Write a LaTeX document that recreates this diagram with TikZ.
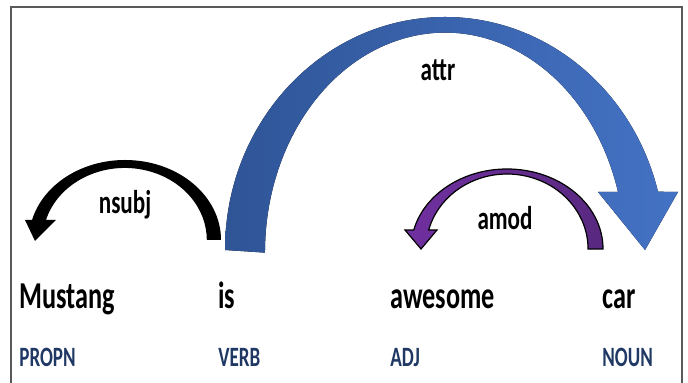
\documentclass[tikz,border=0pt]{standalone}
\usepackage{fontspec}
\setmainfont{Carlito}
\usepackage{graphicx}
\usepackage{xcolor}
\usepackage{tikz}
\usetikzlibrary{calc,positioning}
\definecolor{attrDark}{HTML}{2F5597}
\definecolor{attrLight}{HTML}{4472C4}
\definecolor{amodLight}{HTML}{7030A0}
\definecolor{amodDark}{HTML}{58297F}
\definecolor{posBlue}{HTML}{1F3864}
\definecolor{frameGray}{HTML}{595959}
\newcommand{\narrow}[2][0.7]{\scalebox{#1}[1]{#2}}

\begin{document}
\begin{tikzpicture}[x=0.5pt, y=0.5pt,
    word/.style={anchor=base west, inner sep=0pt, font=\fontsize{19}{22}\selectfont\bfseries},
    tag/.style={anchor=base west, inner sep=0pt, text=posBlue, font=\fontsize{14}{16}\selectfont\bfseries},
    rel/.style={inner sep=0pt, font=\fontsize{16.5}{19}\selectfont\bfseries}]
        \useasboundingbox (0,0) rectangle (688,383);
        \draw[frameGray, line width=0.75pt] (11,0) -- (11,376) -- (682,376) -- (682,0);
        % attr
        \fill[left color=attrDark, right color=attrLight]
            (225,133) arc[start angle=180, end angle=14.5, x radius=220, y radius=233]
            -- (678,191) -- (645,133) -- (598,191) -- (618,191)
            arc[start angle=16, end angle=180, x radius=180, y radius=220] -- cycle;
        % nsubj
        \fill[black]
            (221,143) arc[start angle=0, end angle=165.5, x radius=96, y radius=80]
            -- (25,163) -- (35,142) -- (56,163) -- (46,163)
            arc[start angle=163.9, end angle=0, x radius=82, y radius=72] -- cycle;
        % amod
        \draw[black, line width=0.6pt, left color=amodLight, right color=amodDark]
            (603,134) arc[start angle=0, end angle=166.3, x radius=96, y radius=80]
            -- (405,153) -- (421,134) -- (437,153) -- (428.7,153)
            arc[start angle=165.3, end angle=0, x radius=81, y radius=75] -- cycle;
        \node[rel] (l-nsubj) at (125,178) {\narrow{nsubj}};
        \node[rel] (l-attr) at (438,313) {\narrow{attr}};
        \node[rel] (l-amod) at (505,165) {\narrow{amod}};
        \node[word] (w-mustang) at (19,74) {\narrow[0.69]{Mustang}};
        \node[word] (w-is) at (218,74) {\narrow[0.69]{is}};
        \node[word] (w-awesome) at (390,74) {\narrow[0.69]{awesome}};
        \node[word] (w-car) at (602,74) {\narrow[0.69]{car}};
        \node[tag] (t-propn) at (19,16) {\narrow[0.68]{PROPN}};
        \node[tag] (t-verb) at (218,16) {\narrow[0.68]{VERB}};
        \node[tag] (t-adj) at (390,16) {\narrow[0.68]{ADJ}};
        \node[tag] (t-noun) at (602,16) {\narrow[0.68]{NOUN}};
    \end{tikzpicture}
\end{document}
